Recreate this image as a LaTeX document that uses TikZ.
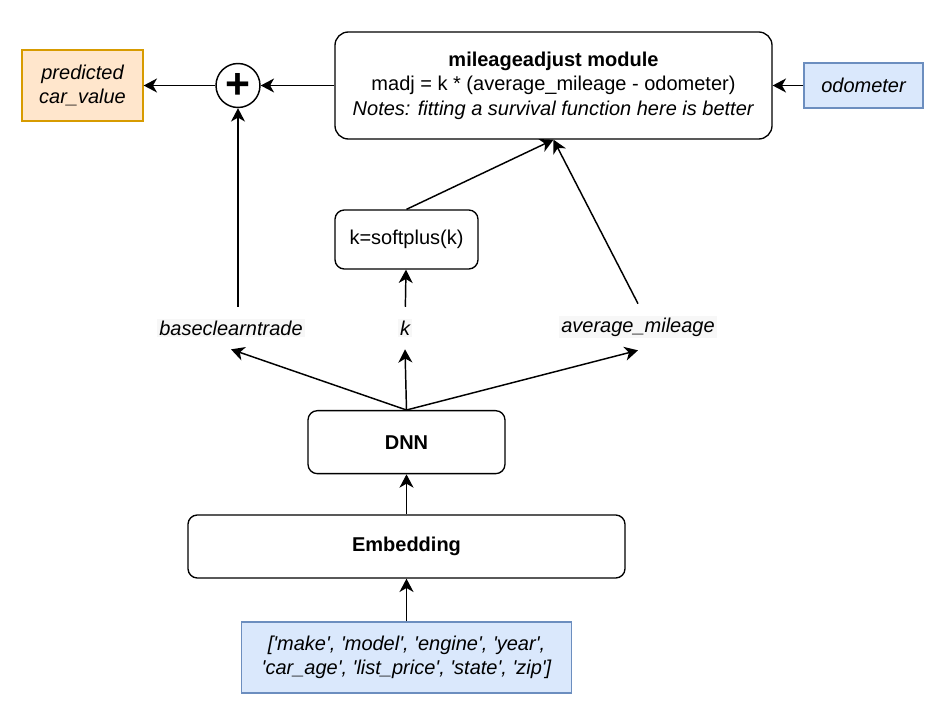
\documentclass[tikz,border=0pt]{standalone}
\usepackage{fontspec}
\setmainfont{Liberation Sans}
\usetikzlibrary{positioning,arrows.meta}
\definecolor{PredFill}{HTML}{FFE6CC}
\definecolor{PredLine}{HTML}{D79B00}
\definecolor{InFill}{HTML}{DAE8FC}
\definecolor{InLine}{HTML}{6C8EBF}
\definecolor{LabelBand}{HTML}{F7F7F7}
\newcommand{\sq}{\textquotesingle}

\begin{document}
\begin{tikzpicture}[x=0.75pt, y=-0.75pt, node distance=30pt,
  every node/.style={font=\fontsize{15}{18.4}\selectfont, align=center},
  block/.style={draw, rounded corners=7pt, line width=1pt, fill=white, inner sep=0pt},
  inbox/.style={draw=InLine, fill=InFill, line width=1pt, inner sep=0pt,
                font=\fontsize{15}{18.4}\selectfont\itshape},
  varlabel/.style={fill=LabelBand, inner sep=1.5pt, outer ysep=9pt,
                   font=\fontsize{15}{18.4}\selectfont\itshape},
  arr/.style={-{Stealth[length=10pt,width=10.5pt,inset=3pt]}, line width=1.1pt}]
  \useasboundingbox (0,0) rectangle (947,720);

  % top row
  \node[draw=PredLine, fill=PredFill, line width=1pt, inner sep=0pt,
        minimum width=90.75pt, minimum height=53.25pt,
        font=\fontsize{15}{18.4}\selectfont\itshape] (pred) at (82.5,85.5)
    {predicted\\car\_value};
  \node[draw, circle, line width=1.1pt, minimum size=33pt, inner sep=0pt,
        font=\fontsize{32}{32}\selectfont\bfseries] (plus) at (238,85.5) {+};
  \node[block, rounded corners=10pt, minimum width=327.75pt, minimum height=80.25pt] (madj) at (553.5,85.5)
    {\textbf{mileageadjust module}\\madj = k * (average\_mileage - odometer)\\
     \textit{Notes: fitting a survival function here is better}};
  \node[inbox, minimum width=89.25pt, minimum height=33.75pt] (odo) at (863.5,85.5) {odometer};

  % middle
  \node[block, minimum width=107.25pt, minimum height=44.25pt] (soft) at (406.5,239.5) {k=softplus(k)};
  \node[varlabel] (base) at (231,328) {baseclearntrade};
  \node[varlabel] (k) at (405,328) {k};
  \node[varlabel] (avg) at (638,327) {average\_mileage};

  % network column
  \node[block, minimum width=327.75pt, minimum height=47.25pt, font=\fontsize{15}{18.4}\selectfont\bfseries] (emb) at (406.5,546.5) {Embedding};
  \node[block, above=of emb, minimum width=147.75pt, minimum height=47.25pt, font=\fontsize{15}{18.4}\selectfont\bfseries] (dnn) {DNN};
  \node[inbox, below=32pt of emb, minimum width=247.5pt, minimum height=53.25pt] (feats)
    {[\sq make\sq, \sq model\sq, \sq engine\sq, \sq year\sq,\\
     \sq car\_age\sq, \sq list\_price\sq, \sq state\sq, \sq zip\sq]};

  \draw[arr] (feats) -- (emb);
  \draw[arr] (emb) -- (dnn);
  \foreach \v in {base,k,avg}
    \draw[arr] (dnn.north) -- (\v.south);
  \draw[arr] (k) -- (soft);
  \draw[arr] (soft.north) -- (madj.south);
  \draw[arr] (avg.north) -- (madj.south);
  \draw[arr] (base.north -| plus) -- (plus);
  \draw[arr] (odo) -- (madj);
  \draw[arr] (madj) -- (plus);
  \draw[arr] (plus) -- (pred);
\end{tikzpicture}
\end{document}
